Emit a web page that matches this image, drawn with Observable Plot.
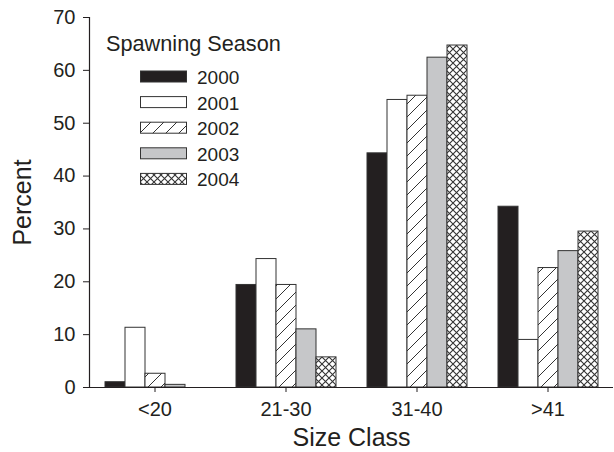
<!DOCTYPE html>
<html>
<head>
<meta charset="utf-8">
<script src="https://cdn.jsdelivr.net/npm/d3@7"></script>
<script src="https://cdn.jsdelivr.net/npm/@observablehq/plot@0.6"></script>
<style>
  html, body { margin: 0; padding: 0; background: #fff; }
  #chart { width: 614px; height: 452px; }
</style>
</head>
<body>
<div id="chart"></div>
<script>
const sizeClasses = ["<20", "21-30", "31-40", ">41"];
const seasons = ["2000", "2001", "2002", "2003", "2004"];
const v2000 = [1.0, 19.4, 44.3, 34.2];
const v2001 = [11.3, 24.3, 54.4, 9.0];
const v2002 = [2.6, 19.4, 55.2, 22.6];
const v2003 = [0.5, 11.0, 62.4, 25.8];
const v2004 = [0, 5.7, 64.7, 29.5];
const yTicks = [0, 10, 20, 30, 40, 50, 60, 70];
const legendTitle = "Spawning Season";
const fills = ["#231f20", "#ffffff", "url(#hatch)", "#c6c7c9", "url(#cross)"];

const seriesValues = [v2000, v2001, v2002, v2003, v2004];
const data = [];
seasons.forEach((s, i) => {
  sizeClasses.forEach((c, j) => {
    data.push({season: s, size: c, value: seriesValues[i][j]});
  });
});

const ink = "#231f20";
const font = "'Liberation Sans', Arial, Helvetica, sans-serif";

const chart = Plot.plot({
  width: 614,
  height: 452,
  marginLeft: 87,
  marginRight: 0,
  marginTop: 17,
  marginBottom: 65,
  style: {fontFamily: font, color: ink, background: "#fff"},
  fx: {domain: sizeClasses, padding: 0},
  x: {domain: seasons, paddingInner: 0, paddingOuter: 0.64, axis: null},
  y: {domain: [0, 70]},
  color: {domain: seasons, range: fills},
  marks: [
    Plot.barY(data.filter(d => d.value > 0), {
      fx: "size", x: "season", y: "value", fill: "season",
      stroke: "#333", strokeWidth: 1, inset: 0
    }),
    Plot.ruleY([0], {stroke: ink, strokeWidth: 1.2}),
    Plot.frame({anchor: "left", facetAnchor: "left", stroke: ink, strokeWidth: 1.2}),
    Plot.axisY({ticks: yTicks, tickSize: 6, tickPadding: 8, fontSize: 20,
      label: "Percent", labelAnchor: "center", labelArrow: "none", labelOffset: 76}),
    Plot.axisFx({anchor: "bottom", tickSize: 5, tickPadding: 9, fontSize: 20,
      label: "Size Class", labelAnchor: "center", labelArrow: "none", labelOffset: 58})
  ]
});

const svg = d3.select(chart);
svg.style("font-family", font);
svg.selectAll('g[aria-label="y-axis label"], g[aria-label="fx-axis label"]')
  .attr("font-size", 25).style("font-size", "25px");
svg.selectAll('g[aria-label="y-axis label"] text, g[aria-label="fx-axis label"] text')
  .attr("font-size", 25).style("font-size", "25px");

const defs = svg.insert("defs", ":first-child");
const hatch = defs.append("pattern").attr("id", "hatch").attr("patternUnits", "userSpaceOnUse")
  .attr("width", 13).attr("height", 13);
hatch.append("rect").attr("width", 13).attr("height", 13).attr("fill", "#fff");
hatch.append("path").attr("d", "M0,13 L13,0 M-3,3 L3,-3 M10,16 L16,10")
  .attr("stroke", "#333").attr("stroke-width", 1);
const cross = defs.append("pattern").attr("id", "cross").attr("patternUnits", "userSpaceOnUse")
  .attr("width", 7).attr("height", 7);
cross.append("rect").attr("width", 7).attr("height", 7).attr("fill", "#fff");
cross.append("path").attr("d", "M0,0 L7,7 M0,7 L7,0")
  .attr("stroke", "#333").attr("stroke-width", 1.1);

// Legend inside the plot area
const lg = svg.append("g").attr("font-family", font).attr("fill", ink).attr("text-anchor", "start");
lg.append("text").attr("x", 106).attr("y", 51).attr("font-size", 21.7).text(legendTitle);
seasons.forEach((s, i) => {
  const y = 71 + i * 25.6;
  lg.append("rect").attr("x", 140.5).attr("y", y).attr("width", 46).attr("height", 11)
    .attr("fill", fills[i]).attr("stroke", "#333").attr("stroke-width", 1);
  lg.append("text").attr("x", 197).attr("y", y + 13).attr("font-size", 19).text(s);
});

document.getElementById("chart").appendChild(chart);
</script>
</body>
</html>
